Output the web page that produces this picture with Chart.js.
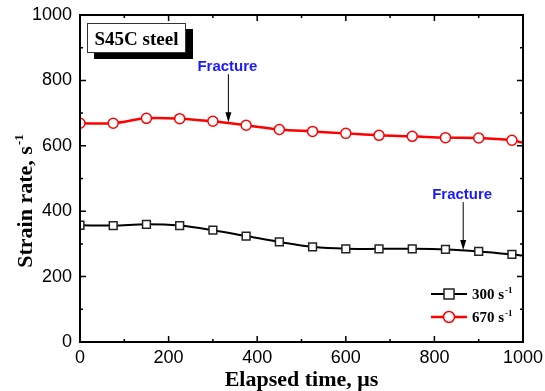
<!DOCTYPE html>
<html>
<head>
<meta charset="utf-8">
<script src="https://cdn.jsdelivr.net/npm/chart.js@4/dist/chart.umd.min.js"></script>
<style>
  html, body { margin: 0; padding: 0; background: #fff; }
  #wrap { width: 545px; height: 391px; }
</style>
</head>
<body>
<div id="wrap"><canvas id="grafico" width="545" height="391"></canvas></div>
<script>
// elapsed time (µs) and strain rate (1/s)
const tempos = [0, 75, 150, 225, 300, 375, 450, 525, 600, 675, 750, 825, 900, 975, 1000];
const taxa300 = [357, 356, 360, 356, 342, 324, 306, 291, 285, 285, 285, 283, 277, 268, 264];
const taxa670 = [669, 669, 684, 683, 675, 663, 650, 644, 638, 632, 629, 625, 624, 617, 609];
const legendas = ["300", "670"];
const fraturaX = [335, 865];
const fraturaY = [672, 281];
const eixoX = [0, 200, 400, 600, 800, 1000];
const eixoY = [0, 200, 400, 600, 800, 1000];

const pontos = (ys) => tempos.map((t, i) => ({ x: t, y: ys[i] }));
const raios = (r) => tempos.map(t => t > 975 ? 0 : r);

const serif = '"Liberation Serif", "Times New Roman", serif';
const sans = '"Liberation Sans", Arial, sans-serif';

// texto com expoente "-1" depois do "s"
function textoSup(ctx, base, x, y, tam) {
  ctx.font = `bold ${tam}px ${serif}`;
  ctx.fillText(base, x, y);
  const w = ctx.measureText(base).width;
  ctx.font = `bold ${Math.round(tam * 0.6)}px ${serif}`;
  ctx.fillText("-1", x + w + 1, y - tam * 0.42);
  return w + ctx.measureText("-1").width + 1;
}

function larguraSup(ctx, base, tam) {
  ctx.font = `bold ${tam}px ${serif}`;
  const w = ctx.measureText(base).width;
  ctx.font = `bold ${Math.round(tam * 0.6)}px ${serif}`;
  return w + ctx.measureText("-1").width + 1;
}

const extras = {
  id: "extras",
  afterDraw(chart) {
    const { ctx, chartArea: a, scales } = chart;
    const sx = scales.x, sy = scales.y;
    ctx.save();

    // moldura
    ctx.strokeStyle = "#000";
    ctx.lineWidth = 2;
    ctx.strokeRect(a.left, a.top, a.right - a.left, a.bottom - a.top);

    // ticks para dentro
    ctx.lineWidth = 1.5;
    for (let v = 0; v <= 1000; v += 100) {
      const len = v % 200 === 0 ? 6 : 3;
      const px = sx.getPixelForValue(v);
      const py = sy.getPixelForValue(v);
      ctx.beginPath();
      ctx.moveTo(px, a.bottom); ctx.lineTo(px, a.bottom - len);
      ctx.moveTo(px, a.top); ctx.lineTo(px, a.top + len);
      ctx.moveTo(a.left, py); ctx.lineTo(a.left + len, py);
      ctx.moveTo(a.right, py); ctx.lineTo(a.right - len, py);
      ctx.stroke();
    }

    // caixa "S45C steel"
    ctx.fillStyle = "#000";
    ctx.fillRect(94, 29, 99, 30);
    ctx.fillStyle = "#fff";
    ctx.fillRect(87, 23, 99, 30);
    ctx.strokeStyle = "#333";
    ctx.lineWidth = 1;
    ctx.strokeRect(87.5, 23.5, 98, 29);
    ctx.fillStyle = "#000";
    ctx.font = `bold 19px ${serif}`;
    ctx.textAlign = "center";
    ctx.textBaseline = "alphabetic";
    ctx.fillText("S45C steel", 136.5, 45);

    // fratura
    fraturaX.forEach((fx, i) => {
      const px = sx.getPixelForValue(fx);
      const py = sy.getPixelForValue(fraturaY[i]);
      const topo = py - 48;
      ctx.fillStyle = "#1a1aff";
      ctx.font = `bold 15px ${sans}`;
      ctx.textAlign = "center";
      ctx.fillText("Fracture", px - 1, topo - 3);
      ctx.strokeStyle = "#000";
      ctx.lineWidth = 1;
      ctx.beginPath();
      ctx.moveTo(px, topo); ctx.lineTo(px, py - 8);
      ctx.stroke();
      ctx.fillStyle = "#000";
      ctx.beginPath();
      ctx.moveTo(px - 3, py - 10); ctx.lineTo(px + 3, py - 10); ctx.lineTo(px, py); ctx.closePath();
      ctx.fill();
    });

    // legenda
    chart.data.datasets.forEach((ds, i) => {
      const y = 294 + i * 23;
      ctx.strokeStyle = ds.borderColor;
      ctx.lineWidth = ds.borderWidth;
      ctx.beginPath();
      ctx.moveTo(431, y); ctx.lineTo(467, y);
      ctx.stroke();
      ctx.fillStyle = "#fff";
      ctx.strokeStyle = ds.pointBorderColor;
      ctx.lineWidth = 1.5;
      if (ds.pointStyle === "rect") {
        ctx.fillRect(444, y - 5, 10, 10);
        ctx.strokeRect(444, y - 5, 10, 10);
      } else {
        ctx.beginPath(); ctx.arc(449, y, 5.5, 0, Math.PI * 2); ctx.fill(); ctx.stroke();
      }
      ctx.fillStyle = "#000";
      ctx.textAlign = "left";
      textoSup(ctx, legendas[i] + " s", 472, y + 5, 15);
    });

    // titulos dos eixos
    ctx.fillStyle = "#000";
    ctx.font = `bold 22px ${serif}`;
    const tx = "Elapsed time, \u03bcs";
    const wx = ctx.measureText(tx).width;
    ctx.textAlign = "left";
    ctx.fillText(tx, (a.left + a.right) / 2 - wx / 2, 386);

    ctx.translate(32, 201);
    ctx.rotate(-Math.PI / 2);
    const base = "Strain rate, s";
    const wt = larguraSup(ctx, base, 22);
    textoSup(ctx, base, -wt / 2, 0, 22);

    ctx.restore();
  }
};

new Chart(document.getElementById("grafico"), {
  type: "line",
  data: {
    datasets: [
      {
        label: "300 s-1",
        data: pontos(taxa300),
        borderColor: "#000",
        borderWidth: 2,
        pointStyle: "rect",
        pointRadius: raios(5.5),
        pointBackgroundColor: "#fff",
        pointBorderColor: "#222",
        pointBorderWidth: 1.5,
        tension: 0.35
      },
      {
        label: "670 s-1",
        data: pontos(taxa670),
        borderColor: "#ff0000",
        borderWidth: 2.5,
        pointStyle: "circle",
        pointRadius: raios(5),
        pointBackgroundColor: "#fff",
        pointBorderColor: "#ff0000",
        pointBorderWidth: 1.5,
        tension: 0.35
      }
    ]
  },
  options: {
    responsive: false,
    animation: false,
    layout: { padding: { left: 0, right: 22, top: 15, bottom: 0 } },
    plugins: { legend: { display: false }, tooltip: { enabled: false } },
    scales: {
      x: {
        type: "linear",
        min: 0, max: 1000,
        grid: { display: false },
        border: { display: false },
        afterBuildTicks: s => { s.ticks = eixoX.map(v => ({ value: v })); },
        afterFit: s => { s.height = 49; },
        ticks: { padding: -3, color: "#000", font: { family: sans, size: 18 }, callback: v => String(v) }
      },
      y: {
        min: 0, max: 1000,
        grid: { display: false },
        border: { display: false },
        afterBuildTicks: s => { s.ticks = eixoY.map(v => ({ value: v })); },
        afterFit: s => { s.width = 80; },
        ticks: { padding: 0, color: "#000", font: { family: sans, size: 18 }, callback: v => String(v) }
      }
    }
  },
  plugins: [extras]
});
</script>
</body>
</html>
